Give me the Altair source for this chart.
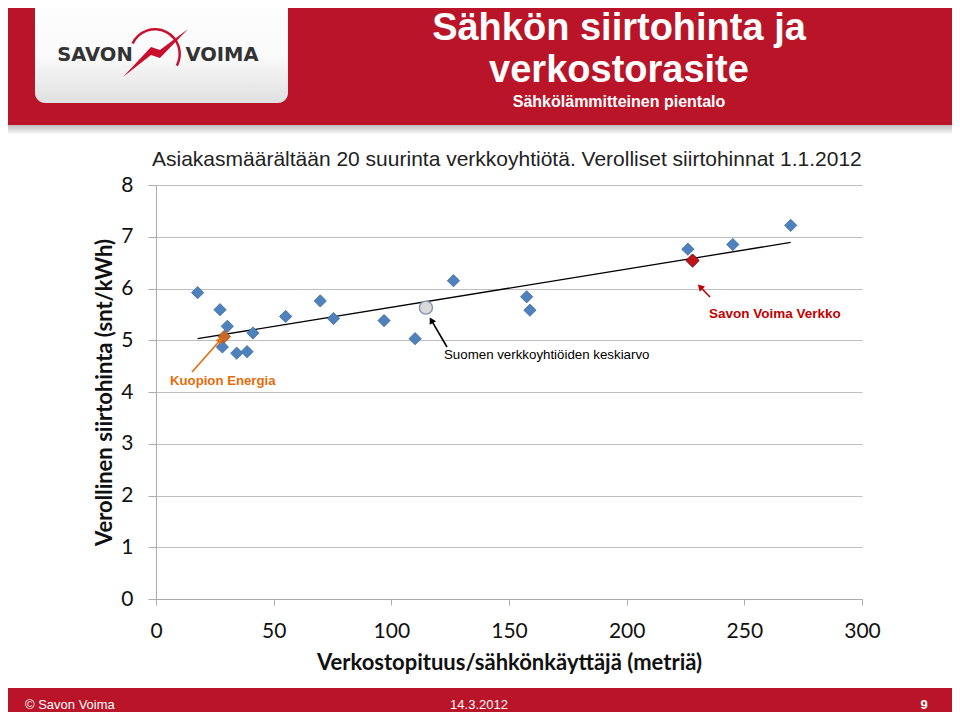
import altair as alt
import pandas as pd

# ---------------- data ----------------
other_x = [17.7, 27.2, 30.3, 28.2, 34.3, 38.7, 41.2, 55.1, 69.8, 75.4,
           96.9, 110.1, 126.4, 157.5, 158.9, 226.0, 245.1, 269.7]
other_y = [5.92, 5.59, 5.27, 4.87, 4.75, 4.78, 5.14, 5.46, 5.76, 5.42,
           5.38, 5.03, 6.15, 5.84, 5.58, 6.76, 6.85, 7.22]
kuopio_x = [29.0]
kuopio_y = [5.07]
savon_x = [228.0]
savon_y = [6.54]
avg_x = [114.7]
avg_y = [5.63]
trend_x = [17.7, 269.7]
trend_y = [5.03, 6.89]
x_ticks = [0, 50, 100, 150, 200, 250, 300]
y_ticks = [0, 1, 2, 3, 4, 5, 6, 7, 8]

title1 = "Sähkön siirtohinta ja"
title2 = "verkostorasite"
title3 = "Sähkölämmitteinen pientalo"
subtitle = "Asiakasmäärältään 20 suurinta verkkoyhtiötä.  Verolliset siirtohinnat 1.1.2012"
x_title = "Verkostopituus/sähkönkäyttäjä (metriä)"
y_title = "Verollinen siirtohinta (snt/kWh)"
lbl_kuopio = "Kuopion Energia"
lbl_avg = "Suomen verkkoyhtiöiden keskiarvo"
lbl_savon = "Savon Voima Verkko"
footer_left = "© Savon Voima"
footer_mid = "14.3.2012"
footer_right = "9"

RED = "#BA1428"
ORANGE = "#E46C0A"
DARKRED = "#C00000"

one = pd.DataFrame({"k": [0]})
df_other = pd.DataFrame({"x": other_x, "y": other_y})
df_kuopio = pd.DataFrame({"x": kuopio_x, "y": kuopio_y})
df_savon = pd.DataFrame({"x": savon_x, "y": savon_y})
df_avg = pd.DataFrame({"x": avg_x, "y": avg_y})
df_trend = pd.DataFrame({"x": trend_x, "y": trend_y})

xs = alt.Scale(domain=[0, 300], nice=False, zero=False)
ys = alt.Scale(domain=[0, 8], nice=False)

x_axis = alt.Axis(values=x_ticks, title=x_title, grid=False,
                  domainColor="#ABABAB", tickColor="#ABABAB", tickSize=6,
                  labelFont="Lato", labelFontSize=21, labelColor="#111111",
                  labelPadding=15, labelFlush=False,
                  titleFont="Lato", titleFontSize=22, titleFontWeight="bold",
                  titleColor="#111111", titleX=353, titleY=63,
                  titleBaseline="middle", titleAlign="center")
y_axis = alt.Axis(values=y_ticks, title=y_title, grid=True,
                  gridColor="#BFBFBF", gridWidth=1,
                  domainColor="#ABABAB", tickColor="#ABABAB", tickSize=8,
                  labelFont="Lato", labelFontSize=21, labelColor="#111111",
                  labelPadding=15, labelFlush=False,
                  titleFont="Lato", titleFontSize=22, titleFontWeight="bold",
                  titleColor="#111111", titleX=-52, titleY=207, titleAngle=270,
                  titleBaseline="middle", titleAlign="center")

X = alt.X("x:Q", scale=xs, axis=x_axis)
Y = alt.Y("y:Q", scale=ys, axis=y_axis)


def box(x1, x2, y1, y2, **kw):
    return alt.Chart(one).mark_rect(**kw).encode(
        x=alt.value(x1), x2=alt.value(x2), y=alt.value(y1), y2=alt.value(y2))


def label(px, py, txt, **kw):
    return alt.Chart(one).mark_text(text=txt, **kw).encode(
        x=alt.value(px), y=alt.value(py))


def rule(x1, y1, x2, y2, **kw):
    return alt.Chart(one).mark_rule(**kw).encode(
        x=alt.value(x1), x2=alt.value(x2), y=alt.value(y1), y2=alt.value(y2))


def head(px, py, ang, col):
    return alt.Chart(one).mark_point(shape="triangle-up", filled=True, size=55,
                                     angle=ang, color=col, opacity=1).encode(
        x=alt.value(px), y=alt.value(py))


# header
banner = box(-170, 820, -200, -60, color=RED)
shadow = box(-170, 820, -60, -50, color=alt.LinearGradient(
    gradient="linear", x1=0, x2=0, y1=0, y2=1,
    stops=[alt.GradientStop(color="#BDBDBD", offset=0),
           alt.GradientStop(color="#FFFFFF", offset=1)]))
logo_box = box(-121, 132, -200, -82, cornerRadius=10, color=alt.LinearGradient(
    gradient="linear", x1=0, x2=0, y1=0, y2=1,
    stops=[alt.GradientStop(color="#FFFFFF", offset=0),
           alt.GradientStop(color="#FAFAFA", offset=0.6),
           alt.GradientStop(color="#E0E0E0", offset=1)]))
logo_t1 = label(-61, -130, "SAVON", font="DejaVu Sans", fontSize=19.5,
                fontWeight="bold", color="#333333", align="center", baseline="middle")
logo_t2 = label(66, -130, "VOIMA", font="DejaVu Sans", fontSize=19.5,
                fontWeight="bold", color="#333333", align="center", baseline="middle")
bolt_path = ("M -0.956 0.706 L -0.132 -0.176 L 0.132 -0.088 L 0.956 -0.706 "
             "L 0.132 0.147 L -0.132 0.059 Z")
bolt = alt.Chart(one).mark_point(shape=bolt_path, size=4624, filled=True,
                                 color="#C8102E", opacity=1).encode(
    x=alt.value(-0.5), y=alt.value(-132))
arc = alt.Chart(one).mark_arc(radius=26, radius2=23.5, theta=5.15, theta2=8.34,
                              color="#C8102E").encode(
    x=alt.value(-1), y=alt.value(-131))
h1 = label(463, -156, title1, font="Liberation Sans", fontSize=38,
           fontWeight="bold", color="white", align="center", baseline="middle")
h2 = label(463, -114, title2, font="Liberation Sans", fontSize=38,
           fontWeight="bold", color="white", align="center", baseline="middle")
h3 = label(463, -83, title3, font="Liberation Sans", fontSize=16,
           fontWeight="bold", color="white", align="center", baseline="middle")
sub = label(-4, -25, subtitle, font="Liberation Sans", fontSize=21,
            color="#222222", align="left", baseline="middle")

# footer
footer = box(-170, 820, 503, 560, color=RED)
f1 = label(-131, 520, footer_left, font="Liberation Sans", fontSize=13,
           color="white", align="left", baseline="middle")
f2 = label(323, 520, footer_mid, font="Liberation Sans", fontSize=13,
           color="white", align="center", baseline="middle")
f3 = label(768, 520, footer_right, font="Liberation Sans", fontSize=13,
           fontWeight="bold", color="white", align="center", baseline="middle")

# data layers
trend = alt.Chart(df_trend).mark_line(color="black", strokeWidth=1.3).encode(x=X, y=Y)
pts = alt.Chart(df_other).mark_point(shape="diamond", filled=True, size=150,
                                     color="#4F81BD", stroke="#3A6BA5",
                                     strokeWidth=0.8, opacity=1).encode(x=X, y=Y)
kp = alt.Chart(df_kuopio).mark_point(shape="diamond", filled=True, size=160,
                                     color="#C8692B", stroke="#9C4E1C",
                                     strokeWidth=0.8, opacity=1).encode(x=X, y=Y)
sv = alt.Chart(df_savon).mark_point(shape="diamond", filled=True, size=175,
                                    color="#C0141B", stroke="#7A0A0E",
                                    strokeWidth=1, opacity=1).encode(x=X, y=Y)
av = alt.Chart(df_avg).mark_point(shape="circle", filled=True, size=170,
                                  color="#D9D9D9", stroke="#7F93AD",
                                  strokeWidth=1.3, opacity=1).encode(x=X, y=Y)

# annotations
a1 = rule(36, 187, 64.4, 155, color=ORANGE, strokeWidth=1.6)
a1h = head(64.4, 155, 42, ORANGE)
a2 = rule(291, 162, 275.3, 135.2, color="black", strokeWidth=1.6)
a2h = head(275.3, 135.2, 330, "black")
a3 = rule(554, 112, 544.1, 101.8, color=DARKRED, strokeWidth=1.6)
a3h = head(544.1, 101.8, 315, DARKRED)
t1 = label(14, 196, lbl_kuopio, font="Liberation Sans", fontSize=13.2,
           fontWeight="bold", color=ORANGE, align="left", baseline="middle")
t2 = label(288, 170, lbl_avg, font="Liberation Sans", fontSize=13.3,
           color="black", align="left", baseline="middle")
t3 = label(553, 129, lbl_savon, font="Liberation Sans", fontSize=13.5,
           fontWeight="bold", color=DARKRED, align="left", baseline="middle")

chart = alt.layer(
    banner, shadow, logo_box, logo_t1, logo_t2, arc, bolt, h1, h2, h3, sub,
    footer, f1, f2, f3,
    trend, pts, kp, sv, av,
    a1, a1h, a2, a2h, a3, a3h, t1, t2, t3,
).properties(
    width=706, height=414,
    padding={"left": 148, "top": 177, "right": 90, "bottom": 113},
    autosize=alt.AutoSizeParams(type="none"),
    background="white",
).configure_view(stroke=None)

chart.save("out.html", embed_options={"renderer": "svg", "actions": False})
